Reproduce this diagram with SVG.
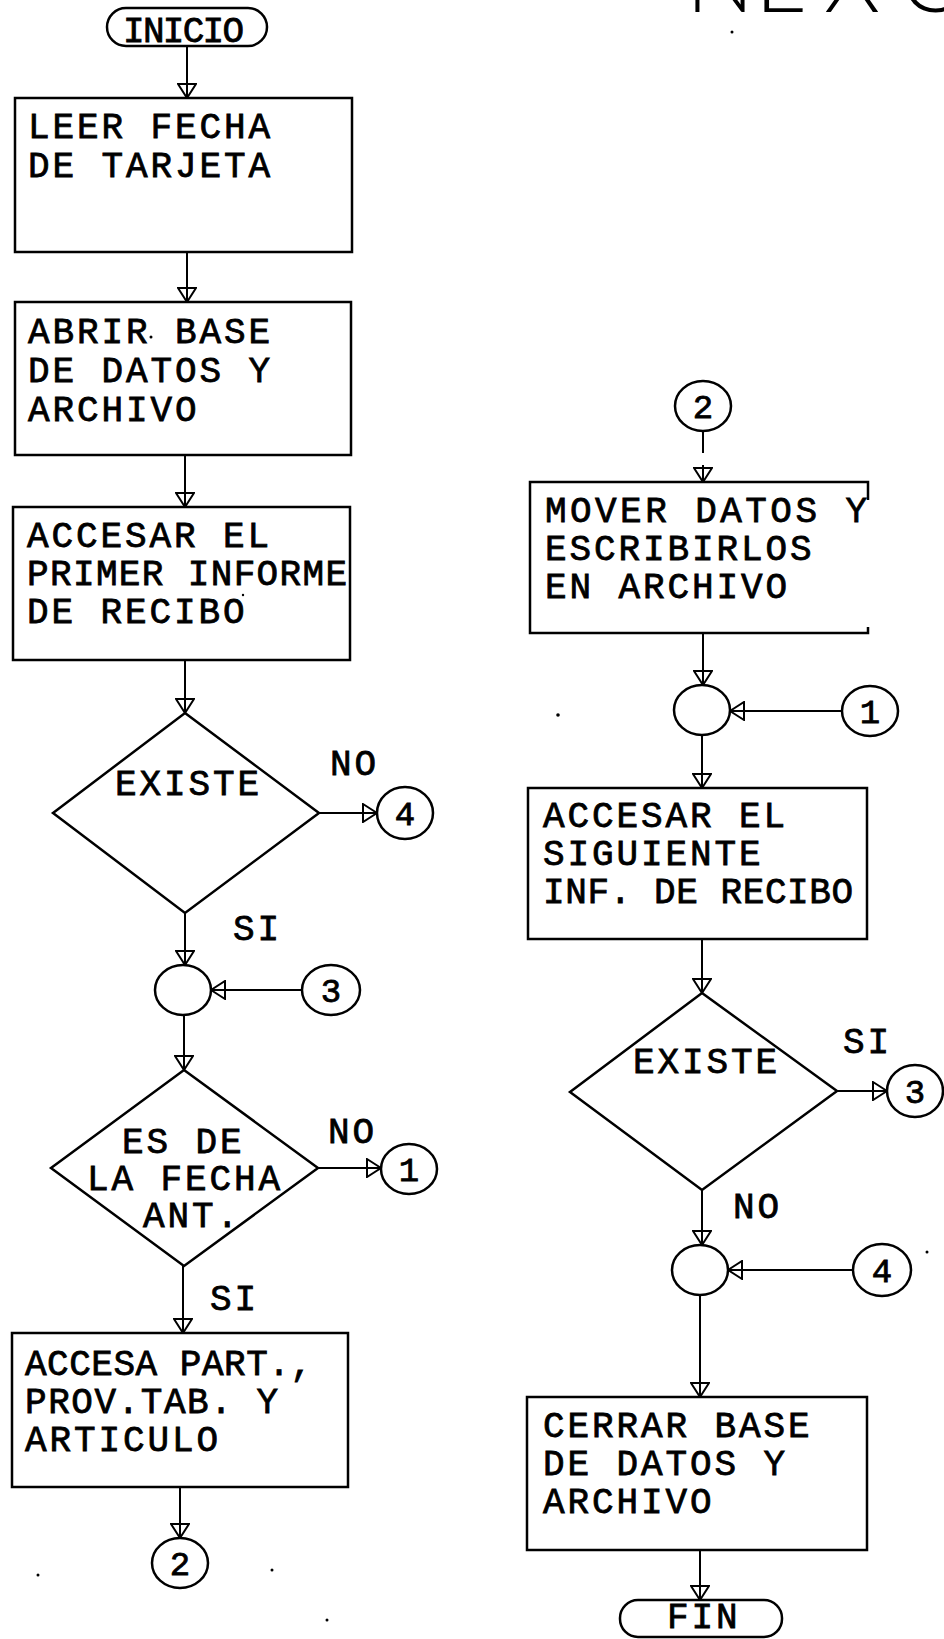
<svg xmlns="http://www.w3.org/2000/svg" width="944" height="1639" viewBox="0 0 944 1639">
<style>
.t{font-family:"Liberation Mono","DejaVu Sans Mono",monospace;font-size:36px;letter-spacing:2.9px;fill:#000;stroke:#000;stroke-width:0.8}
.d{font-family:"Liberation Mono","DejaVu Sans Mono",monospace;font-size:34px;fill:#000;stroke:#000;stroke-width:0.8;text-anchor:middle}
.s{fill:#fff;stroke:#000;stroke-width:2.5}
.c{fill:none;stroke:#000;stroke-width:2;marker-end:url(#arr)}
.big{font-family:Lato,"Liberation Sans",sans-serif;font-weight:300;font-size:90px;fill:#000}
.sp{fill:#000}
</style>
<defs>
<marker id="arr" viewBox="0 0 16 20" refX="15" refY="10" markerWidth="16" markerHeight="20" markerUnits="userSpaceOnUse" orient="auto">
<path d="M1,1 L15,10 L1,19 Z" fill="none" stroke="#000" stroke-width="2"/>
</marker>
</defs>
<rect width="944" height="1639" fill="#fff"/>

<g id="title"><text class="big" x="686 755 824 900" y="12">NEXO</text></g>

<g id="connectors">
<path class="c" d="M187,46 V98"/>
<path class="c" d="M187,252 V302"/>
<path class="c" d="M185,455 V507"/>
<path class="c" d="M185,660 V713"/>
<path class="c" d="M319,813 H377"/>
<path class="c" d="M185,913 V965"/>
<path class="c" d="M303,990 H211"/>
<path class="c" d="M184,1015 V1070"/>
<path class="c" d="M318,1168 H381"/>
<path class="c" d="M183,1266 V1333"/>
<path class="c" d="M180,1487 V1538"/>
<path class="c" d="M703,431 V482" stroke-dasharray="22 12"/>
<path class="c" d="M703,633 V685"/>
<path class="c" d="M842,711 H730"/>
<path class="c" d="M702,735 V788"/>
<path class="c" d="M702,939 V993"/>
<path class="c" d="M837,1091 H887"/>
<path class="c" d="M702,1190 V1245"/>
<path class="c" d="M854,1270 H728"/>
<path class="c" d="M700,1295 V1397"/>
<path class="c" d="M700,1550 V1600"/>
</g>

<g id="inicio"><rect class="s" x="107" y="8" width="160" height="38" rx="19"/><text class="t" x="123" y="42" textLength="124" lengthAdjust="spacing">INICIO</text></g>

<g id="leer"><rect class="s" x="15" y="98" width="337" height="154"/>
<text class="t" x="28" y="138">LEER FECHA</text><text class="t" x="28" y="177">DE TARJETA</text></g>

<g id="abrir"><rect class="s" x="15" y="302" width="336" height="153"/>
<text class="t" x="28" y="343">ABRIR BASE</text><text class="t" x="28" y="382">DE DATOS Y</text><text class="t" x="28" y="421">ARCHIVO</text></g>

<g id="accesar1"><rect class="s" x="13" y="507" width="337" height="153"/>
<text class="t" x="27" y="547">ACCESAR EL</text><text class="t" x="27" y="585" textLength="323" lengthAdjust="spacing">PRIMER INFORME</text><text class="t" x="27" y="623">DE RECIBO</text></g>

<g id="existe1"><polygon class="s" points="185,713 319,813 185,913 53,813"/>
<text class="t" x="115" y="795">EXISTE</text></g>
<g id="lbl-no1"><text class="t" x="330" y="775">NO</text></g>
<g id="con4a"><ellipse class="s" cx="405" cy="813" rx="28" ry="26"/><text class="d" x="405" y="825">4</text></g>
<g id="lbl-si1"><text class="t" x="233" y="940">SI</text></g>
<g id="juncA"><ellipse class="s" cx="183" cy="990" rx="28" ry="25"/></g>
<g id="con3a"><ellipse class="s" cx="331" cy="990" rx="29" ry="25"/><text class="d" x="331" y="1002">3</text></g>

<g id="esfecha"><polygon class="s" points="184,1070 318,1168 184,1266 51,1168"/>
<text class="t" x="122" y="1153">ES DE</text><text class="t" x="87" y="1190">LA FECHA</text><text class="t" x="143" y="1227">ANT.</text></g>
<g id="lbl-no2"><text class="t" x="328" y="1143">NO</text></g>
<g id="con1a"><ellipse class="s" cx="409" cy="1169" rx="28" ry="25"/><text class="d" x="409" y="1181">1</text></g>
<g id="lbl-si2"><text class="t" x="210" y="1310">SI</text></g>

<g id="accesa"><rect class="s" x="12" y="1333" width="336" height="154"/>
<text class="t" x="25" y="1375" textLength="290" lengthAdjust="spacing">ACCESA PART.,</text><text class="t" x="25" y="1413" textLength="256" lengthAdjust="spacing">PROV.TAB. Y</text><text class="t" x="25" y="1451">ARTICULO</text></g>
<g id="con2a"><ellipse class="s" cx="180" cy="1563" rx="28" ry="25"/><text class="d" x="180" y="1575">2</text></g>

<g id="con2b"><ellipse class="s" cx="703" cy="406" rx="28" ry="25"/><text class="d" x="703" y="418">2</text></g>
<g id="mover"><path class="s" d="M868,500 V482 H530 V633 H868 V627" style="fill:none"/>
<text class="t" x="545" y="522" textLength="325" lengthAdjust="spacing">MOVER DATOS Y</text><text class="t" x="545" y="560">ESCRIBIRLOS</text><text class="t" x="545" y="598">EN ARCHIVO</text></g>
<g id="juncB"><ellipse class="s" cx="702" cy="710" rx="28" ry="25"/></g>
<g id="con1b"><ellipse class="s" cx="870" cy="711" rx="28" ry="25"/><text class="d" x="870" y="723">1</text></g>

<g id="accesar2"><rect class="s" x="528" y="788" width="339" height="151"/>
<text class="t" x="543" y="827">ACCESAR EL</text><text class="t" x="543" y="865">SIGUIENTE</text><text class="t" x="543" y="903" textLength="313" lengthAdjust="spacing">INF. DE RECIBO</text></g>

<g id="existe2"><polygon class="s" points="702,993 837,1091 702,1190 570,1092"/>
<text class="t" x="633" y="1073">EXISTE</text></g>
<g id="lbl-si3"><text class="t" x="843" y="1053">SI</text></g>
<g id="con3b"><ellipse class="s" cx="915" cy="1091" rx="28" ry="26"/><text class="d" x="915" y="1103">3</text></g>
<g id="lbl-no3"><text class="t" x="733" y="1218">NO</text></g>
<g id="juncC"><ellipse class="s" cx="700" cy="1270" rx="28" ry="25"/></g>
<g id="con4b"><ellipse class="s" cx="882" cy="1270" rx="29" ry="26"/><text class="d" x="882" y="1282">4</text></g>

<g id="cerrar"><rect class="s" x="527" y="1397" width="340" height="153"/>
<text class="t" x="543" y="1437">CERRAR BASE</text><text class="t" x="543" y="1475">DE DATOS Y</text><text class="t" x="543" y="1513">ARCHIVO</text></g>

<g id="fin"><rect class="s" x="620" y="1600" width="162" height="37" rx="18"/><text class="t" x="667" y="1628">FIN</text></g>

<g id="specks">
<circle class="sp" cx="732" cy="32" r="1.5"/>
<circle class="sp" cx="151" cy="337" r="1.5"/>
<circle class="sp" cx="243" cy="595" r="1.2"/>
<circle class="sp" cx="558" cy="715" r="1.8"/>
<circle class="sp" cx="927" cy="1252" r="1.5"/>
<circle class="sp" cx="38" cy="1575" r="1.5"/>
<circle class="sp" cx="272" cy="1570" r="1.5"/>
<circle class="sp" cx="327" cy="1620" r="1.5"/>
</g>
</svg>
